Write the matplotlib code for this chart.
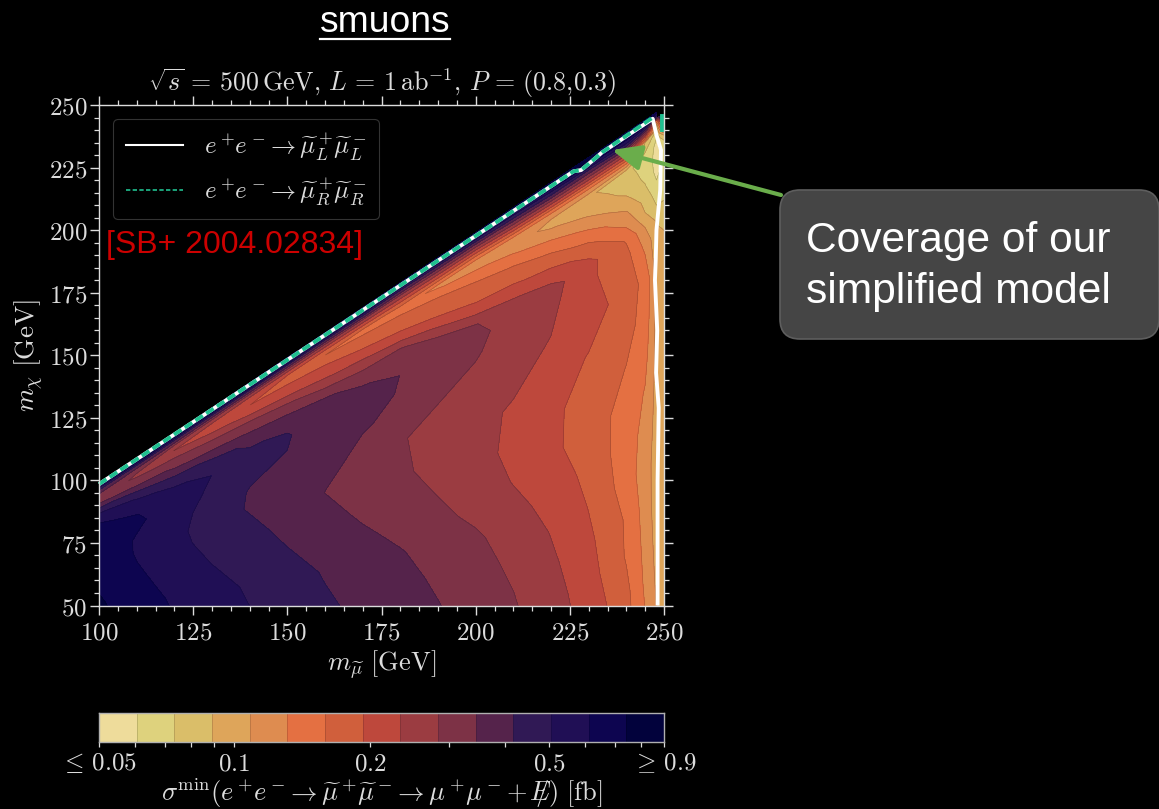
import numpy as np
import matplotlib
matplotlib.use('Agg')
import matplotlib.pyplot as plt
from matplotlib.colors import ListedColormap
from matplotlib.lines import Line2D
from matplotlib.patches import FancyArrowPatch, FancyBboxPatch
from matplotlib.ticker import FixedLocator, MultipleLocator, NullFormatter

plt.rcParams['mathtext.fontset'] = 'cm'
plt.rcParams['font.family'] = ['Liberation Sans', 'DejaVu Sans']

W, H = 1159, 809

# sigma_min [fb], one list per smuon mass,
# going down from the diagonal: the rows are m_smuon - m_chi = mass_gap
mass_gap = [1, 2, 3, 4, 6, 8, 10, 12, 14, 17, 20, 24, 28, 33, 38, 44, 50, 65, 80, 95, 110, 125, 140, 155, 170, 185, 200]
m_smuon = [100, 110, 120, 130, 140, 150, 160, 170, 180, 190, 200, 210, 220, 230, 240, 245, 248, 250]

sigma_100 = [.9, .673, .504, .4, .318, .324, .357, .458, .534, .611, .66, .686, .7, .713, .727, .737, .762, .83]
sigma_110 = [.955, .741, .555, .416, .3, .272, .3, .337, .4, .495, .545, .617, .635, .6, .6, .617, .635, .673, .7]
sigma_120 = [.955, .741, .555, .416, .283, .233, .262, .3, .324, .371, .467, .524, .545, .534, .524, .529, .545, .594, .623]
sigma_130 = [.955, .741, .555, .4, .267, .212, .22, .247, .283, .324, .385, .467, .504, .495, .485, .462, .462, .509, .56, .588]
sigma_140 = [.955, .741, .555, .4, .257, .2, .193, .216, .235, .294, .33, .393, .424, .441, .432, .412, .408, .445, .485, .514, .524]
sigma_150 = [.955, .741, .555, .4, .252, .193, .175, .195, .212, .24, .294, .346, .404, .424, .416, .393, .378, .39, .424, .458, .485]
sigma_160 = [.955, .741, .555, .4, .257, .193, .159, .175, .193, .216, .24, .294, .357, .36, .364, .357, .353, .343, .375, .408, .428, .449]
sigma_170 = [.955, .72, .56, .43, .27, .2, .15, .159, .171, .189, .216, .257, .306, .35, .364, .357, .346, .318, .327, .36, .385, .404, .416]
sigma_180 = [.97, .673, .524, .416, .283, .212, .165, .139, .159, .171, .189, .229, .294, .318, .343, .341, .337, .286, .294, .318, .35, .367, .382]
sigma_190 = [.97, .713, .555, .432, .306, .225, .168, .127, .1335, .159, .171, .189, .223, .286, .303, .306, .303, .272, .264, .281, .303, .33, .346, .364]
sigma_200 = [.99, .741, .588, .458, .318, .233, .168, .131, .12, .136, .156, .171, .185, .223, .286, .297, .288, .26, .24, .25, .267, .294, .306, .318, .33]
sigma_210 = [.99, .77, .611, .504, .364, .272, .2, .147, .11, .122, .1335, .157, .175, .2, .238, .262, .26, .247, .231, .222, .231, .25, .271, .284, .294]
sigma_220 = [.99, .817, .673, .555, .416, .3, .22, .159, .119, .1, .11, .131, .153, .178, .212, .25, .245, .231, .21, .198, .202, .216, .231, .243, .255, .262]
sigma_230 = [.99, .817, .7, .611, .416, .312, .233, .165, .124, .0927, .098, .106, .122, .147, .177, .204, .2, .212, .191, .183, .173, .182, .191, .2, .208, .217, .225]
sigma_240 = [.955, .866, .741, .611, .458, .312, .233, .168, .119, .075, .079, .084, .0927, .11, .126, .156, .168, .175, .17, .158, .149, .142, .144, .155, .156, .167, .171]
sigma_245 = [.9, .817, .673, .504, .312, .175, .089, .079, .0734, .0707, .0692, .0707, .075, .0829, .089, .108, .122, .15, .147, .139, .129, .124, .119, .12, .124, .126, .132]
sigma_248 = [.611, .504, .343, .159, .089, .0734, .063, .0595, .057, .056, .056, .057, .0606, .0667, .0734, .087, .0945, .1, .102, .102, .102, .1, .098, .098, .1, .104, .108]
sigma_250 = [np.nan, np.nan, np.nan, .611, .283, .193, .131, .089, .0734, .0667, .0642, .063, .0642, .0667, .0734, .081, .089, .0945, .096, .098, .098, .098, .098, .098, .098, .1, .102]

sigma_columns = [sigma_100, sigma_110, sigma_120, sigma_130, sigma_140, sigma_150, sigma_160, sigma_170, sigma_180,
                 sigma_190, sigma_200, sigma_210, sigma_220, sigma_230, sigma_240, sigma_245, sigma_248, sigma_250]

levels = [.05, .0606, .0735, .0891, .1081, .1311, .1589, .1927, .2336, .2833, .3435, .4164, .5049, .6122, .7423, .9]
band_colors = ['#EEDC9B', '#DED27D', '#DABE69', '#DEA55A', '#DE8C50', '#E47042', '#D05F3C', '#BE483C',
               '#9B3C41', '#7D3246', '#55234B', '#301955', '#200F55', '#0D0550', '#02023C']

# exclusion lines
left_x = [100, 169, 170.5, 226, 228, 232, 233.5, 247, 248, 249.2, 249, 248, 247.8, 247.6, 248.2, 247.9, 248.6, 248.3, 248.3]
left_y = [98.5, 167, 168.5, 223.5, 224, 229, 231, 244.5, 238, 232, 216, 200, 188, 180, 160, 143, 129, 100, 50]
right_x = [100, 169, 170.5, 226, 228, 232, 233.5, 247]
right_y = [98.5, 167, 168.5, 223.5, 224, 229, 231, 245]
right_end_x = [249.6, 249.6]
right_end_y = [245.5, 240]

x_ticks = [100, 125, 150, 175, 200, 225, 250]
y_ticks = [50, 75, 100, 125, 150, 175, 200, 225, 250]
cbar_ticks = [.05, .1, .2, .5, .9]
cbar_labels = [r'$\leq\,0.05$', '$0.1$', '$0.2$', '$0.5$', r'$\geq\,0.9$']
cbar_minor = [.06, .07, .08, .09, .3, .4, .6, .7, .8]

GREY = '#DCDCDC'
GREEN = '#20C090'
ARROW = '#6AAD4B'


def fx(px):
    return px / W


def fy(py):
    return 1 - py / H


def ax_rect(left, top, right, bottom):
    return [fx(left), fy(bottom), (right - left) / W, (bottom - top) / H]


fig = plt.figure(figsize=(W / 100, H / 100), dpi=100, facecolor='black')
ax = fig.add_axes(ax_rect(99, 105, 664, 605.5), facecolor='black')

Z = np.full((len(mass_gap), len(m_smuon)), np.nan)
for j, col in enumerate(sigma_columns):
    Z[:len(col), j] = col
X, G = np.meshgrid(m_smuon, mass_gap)
Y = X - G

plot_levels = [.01] + levels[1:-1] + [3]
ax.contourf(X, Y, Z, levels=plot_levels, colors=band_colors)
ax.contour(X, Y, Z, levels=levels[1:-1], colors='black', linewidths=0.4, alpha=0.25)

ax.plot(left_x, left_y, color='white', lw=2.8, solid_capstyle='butt', clip_on=False)
ax.plot(right_x, right_y, color=GREEN, lw=2.8, dashes=(2.3, 1.0), clip_on=False)
ax.plot(right_end_x, right_end_y, color=GREEN, lw=2.8, clip_on=False)

ax.set_xlim(100, 250)
ax.set_ylim(50, 250)
ax.xaxis.set_major_locator(FixedLocator(x_ticks))
ax.yaxis.set_major_locator(FixedLocator(y_ticks))
ax.xaxis.set_minor_locator(MultipleLocator(5))
ax.yaxis.set_minor_locator(MultipleLocator(5))
ax.set_xticklabels([f'${v}$' for v in x_ticks])
ax.set_yticklabels([f'${v}$' for v in y_ticks])
ax.tick_params(which='both', direction='out', top=True, right=True, color=GREY, labelcolor=GREY, labelsize=18)
ax.tick_params(axis='x', which='major', length=6.5, width=1.0, pad=4)
ax.tick_params(axis='y', which='major', length=6.5, width=1.0, pad=2)
ax.tick_params(which='minor', length=3.8, width=0.9)
for s in ax.spines.values():
    s.set_color(GREY)
    s.set_linewidth(1.0)

ax.set_title(r'$\sqrt{s}\,=\,500\,\mathrm{GeV},\,L\,=\,1\,\mathrm{ab}^{-1},\,P\,=\,(0.8{,}0.3)$', color=GREY, fontsize=18.7, pad=10)
ax.set_xlabel(r'$m_{\widetilde{\mu}}\ [\mathrm{GeV}]$', color=GREY, fontsize=19, labelpad=3)
ax.set_ylabel(r'$m_{\chi}\ [\mathrm{GeV}]$', color=GREY, fontsize=19.5, labelpad=2)

handles = [Line2D([], [], color='white', lw=1.5),
           Line2D([], [], color=GREEN, lw=1.2, dashes=(2.6, 1.4))]
labels = [r'$e^+\!e^-\!\to\widetilde{\mu}^+_L\!\widetilde{\mu}^-_L$', r'$e^+\!e^-\!\to\widetilde{\mu}^+_R\!\widetilde{\mu}^-_R$']
leg = ax.legend(handles, labels, loc='upper left', bbox_to_anchor=((113 - 99) / 565, 1 - (119 - 105) / 500.5), borderaxespad=0,
                fontsize=18, labelcolor=GREY, facecolor='black', edgecolor='#333333', framealpha=1,
                handlelength=2.3, handletextpad=0.85, borderpad=0.5, labelspacing=0.55)
leg.get_frame().set_linewidth(0.8)

fig.text(fx(106), fy(245), '[SB+ 2004.02834]', color='#CC0000', fontsize=23, va='center', ha='left')

# colorbar
cax = fig.add_axes(ax_rect(99, 713, 664, 742), facecolor='black')
cax.pcolormesh(levels, [0, 1], [np.arange(15)], cmap=ListedColormap(band_colors), edgecolors='face', linewidth=0)
cax.vlines(levels[1:-1], 0, 1, color='black', lw=0.4, alpha=0.25)
cax.set_xscale('log')
cax.set_xlim(.05, .9)
cax.set_ylim(0, 1)
cax.set_yticks([])
cax.xaxis.set_major_locator(FixedLocator(cbar_ticks))
cax.xaxis.set_minor_locator(FixedLocator(cbar_minor))
cax.xaxis.set_minor_formatter(NullFormatter())
cax.set_xticklabels(cbar_labels)
cax.tick_params(which='both', axis='x', direction='out', color=GREY, labelcolor=GREY, labelsize=18, length=3.5, width=0.9, pad=3)
for s in cax.spines.values():
    s.set_color('#B0B0B0')
    s.set_linewidth(1.0)
cax.set_xlabel(r'$\sigma^{\mathrm{min}}(e^+\!e^-\!\to\widetilde{\mu}^+\!\widetilde{\mu}^-\!\to\mu^+\!\mu^-\!+\,/\!\!\!\!\!E)\ [\mathrm{fb}]$',
               color=GREY, fontsize=19, labelpad=1)

# slide annotations on top of the plot
fig.text(fx(385), fy(23), 'smuons', color='white', fontsize=26.8, ha='center', va='center')
fig.add_artist(Line2D([fx(320), fx(450)], [fy(38.5), fy(38.5)], color='white', lw=1.6))

box_px = FancyBboxPatch((780 + 18, H - 339 + 18), 1159 - 780 - 36, 149 - 36, boxstyle='round,pad=18,rounding_size=20',
                        transform=None, fc='#454545', ec='#5E5E5E', lw=1.2, zorder=4)
fig.add_artist(box_px)
fig.text(fx(806), fy(241), 'Coverage of our', color='white', fontsize=30.6, ha='left', va='center', zorder=5)
fig.text(fx(806), fy(292), 'simplified model', color='white', fontsize=30.6, ha='left', va='center', zorder=5)

arrow = FancyArrowPatch((781, H - 195), (612, H - 150), transform=None, color=ARROW, lw=3.0,
                        arrowstyle='-|>,head_length=5.5,head_width=2.4', mutation_scale=3.2, shrinkA=0, shrinkB=0, zorder=6)
fig.add_artist(arrow)

fig.savefig('out.png', dpi=100, facecolor='black')
